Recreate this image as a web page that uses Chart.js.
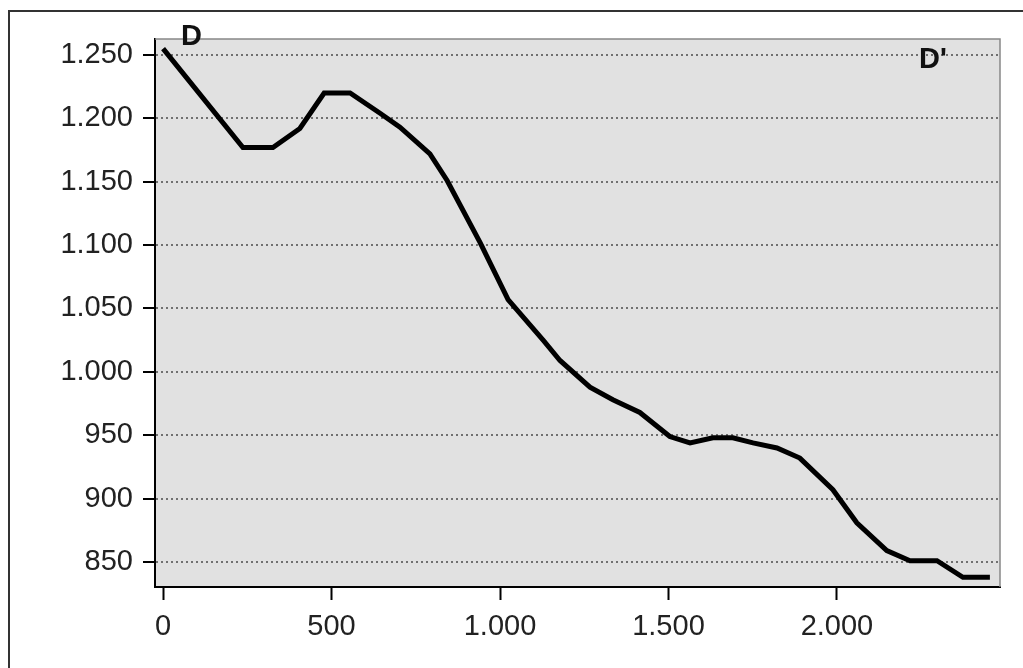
<!DOCTYPE html>
<html lang="en">
<head>
<meta charset="UTF-8">
<title>Profile D - D'</title>
<style>
  body { margin: 0; background: #fff; }
  #wrap { width: 1023px; height: 668px; }
</style>
</head>
<body>
<div id="wrap">
  <canvas id="profileChart" width="1023" height="668"></canvas>
</div>
<script src="https://cdn.jsdelivr.net/npm/chart.js"></script>
<script>
  // distance along the profile and elevation
  const distances = [0, 237, 326, 406, 478, 555, 644, 703, 792, 843, 941, 1024, 1128, 1178, 1267, 1335,
    1415, 1504, 1564, 1632, 1691, 1751, 1822, 1890, 1988, 2059, 2148, 2217, 2297, 2374, 2454];
  const elevations = [1255, 1177, 1177, 1192, 1220, 1220, 1204, 1193, 1172, 1151, 1102, 1057, 1025, 1009, 988, 978,
    968, 949, 944, 948, 948, 944, 940, 932, 907, 881, 859, 851, 851, 838, 838];
  const xTicks = [0, 500, 1000, 1500, 2000];
  const yTicks = [850, 900, 950, 1000, 1050, 1100, 1150, 1200, 1250];
  const startLabel = 'D';
  const endLabel = "D'";

  const points = distances.map((d, i) => ({ x: d, y: elevations[i] }));
  const fmt = v => v.toLocaleString('de-DE');
  const tickFont = { family: 'Liberation Sans, Arial, sans-serif', size: 29 };

  // grey plot background, thin frame and the outer box
  const decor = {
    id: 'decor',
    beforeDraw(chart) {
      const { ctx, chartArea: a } = chart;
      ctx.save();
      ctx.fillStyle = '#e1e1e1';
      ctx.fillRect(a.left, a.top, a.right - a.left, a.bottom - a.top);
      ctx.strokeStyle = '#333';
      ctx.lineWidth = 2;
      ctx.beginPath();
      ctx.moveTo(9, 668);
      ctx.lineTo(9, 11);
      ctx.lineTo(1023, 11);
      ctx.stroke();
      ctx.restore();
    },
    afterDraw(chart) {
      const { ctx, chartArea: a } = chart;
      ctx.save();
      ctx.strokeStyle = '#888';
      ctx.lineWidth = 1.5;
      ctx.beginPath();
      ctx.moveTo(a.left, a.top);
      ctx.lineTo(a.right, a.top);
      ctx.lineTo(a.right, a.bottom);
      ctx.stroke();
      ctx.fillStyle = '#111';
      ctx.font = 'bold 29px Liberation Sans, Arial, sans-serif';
      ctx.textBaseline = 'alphabetic';
      ctx.fillText(startLabel, 181, 45);
      ctx.fillText(endLabel, 919, 68);
      ctx.restore();
    }
  };

  new Chart(document.getElementById('profileChart'), {
    type: 'line',
    data: {
      datasets: [{
        data: points,
        borderColor: '#000',
        borderWidth: 5,
        pointRadius: 0,
        tension: 0,
        fill: false
      }]
    },
    options: {
      responsive: false,
      animation: false,
      layout: { padding: { top: 39, right: 23, left: 0, bottom: 0 } },
      plugins: { legend: { display: false }, tooltip: { enabled: false } },
      scales: {
        x: {
          type: 'linear',
          min: -24,
          max: 2484,
          afterBuildTicks: s => { s.ticks = xTicks.map(v => ({ value: v })); },
          afterFit: s => { s.height = 668 - 587; },
          grid: { drawOnChartArea: false, tickLength: 13, tickColor: '#000', tickWidth: 2 },
          border: { color: '#000', width: 2 },
          ticks: { color: '#222', font: tickFont, padding: 10, maxRotation: 0, callback: v => fmt(v) }
        },
        y: {
          min: 830.3,
          max: 1262.6,
          afterBuildTicks: s => { s.ticks = yTicks.map(v => ({ value: v })); },
          afterFit: s => { s.width = 155; },
          grid: {
            color: '#707070',
            lineWidth: 2,
            tickLength: 12,
            tickColor: '#000',
            tickWidth: 2,
            tickBorderDash: []
          },
          border: { color: '#000', width: 2, dash: [2, 3] },
          ticks: { color: '#222', font: tickFont, padding: 10, callback: v => fmt(v) }
        }
      }
    },
    plugins: [decor]
  });
</script>
</body>
</html>
